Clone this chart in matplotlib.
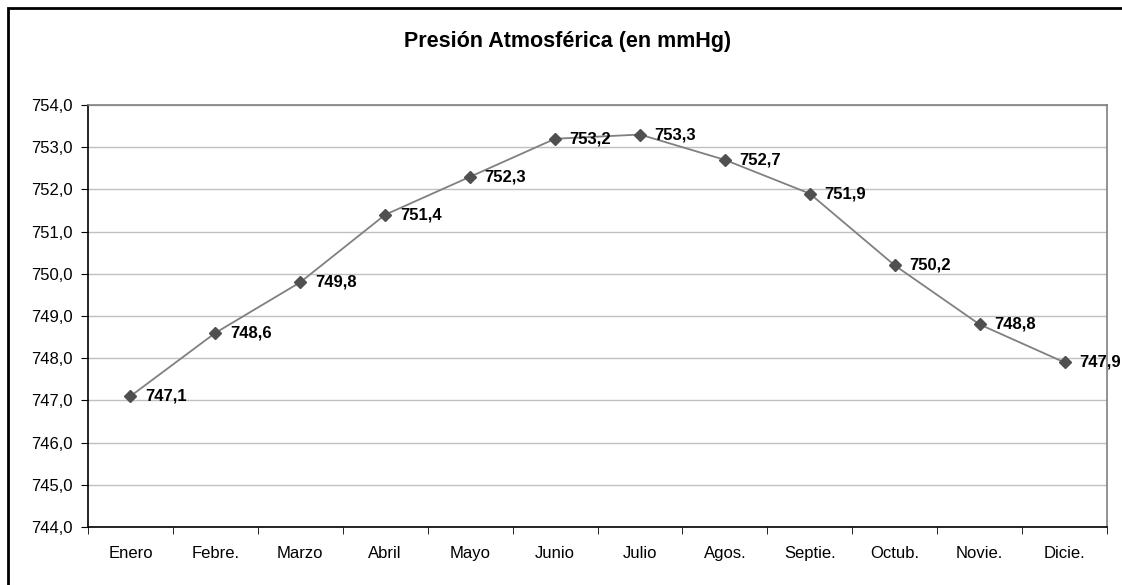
import matplotlib.pyplot as plt
from matplotlib.patches import Rectangle

plt.rcParams['font.family'] = ['Liberation Sans', 'DejaVu Sans']

meses = ['Enero', 'Febre.', 'Marzo', 'Abril', 'Mayo', 'Junio', 'Julio',
         'Agos.', 'Septie.', 'Octub.', 'Novie.', 'Dicie.']
presion = [747.1, 748.6, 749.8, 751.4, 752.3, 753.2, 753.3,
           752.7, 751.9, 750.2, 748.8, 747.9]
y_ticks = [744, 745, 746, 747, 748, 749, 750, 751, 752, 753, 754]

fig = plt.figure(figsize=(11.22, 5.85), dpi=100)
ax = fig.add_axes([88 / 1122, 1 - 527 / 585, 1019 / 1122, 422 / 585])

# outer chart border (cut off at right and bottom like the reference)
fig.patches.append(Rectangle((8 / 1122, -0.1), 1.2, 1 - 8 / 585 + 0.1,
                             transform=fig.transFigure, fill=False,
                             edgecolor='black', linewidth=2))

x = list(range(len(meses)))
ax.plot(x, presion, color='#808080', linewidth=1.3, marker='D',
        markersize=6, markerfacecolor='#505050', markeredgecolor='#505050',
        zorder=3, clip_on=False)

for xi, v in zip(x, presion):
    ax.annotate(f'{v:.1f}'.replace('.', ','), (xi, v), xytext=(10.5, 0),
                textcoords='offset points', ha='left', va='center',
                fontsize=12, fontweight='bold', annotation_clip=False)

ax.set_xlim(-0.5, len(meses) - 0.5)
ax.set_ylim(744, 754)
ax.set_yticks(y_ticks)
ax.set_yticklabels([f'{t:.1f}'.replace('.', ',') for t in y_ticks], fontsize=12)
ax.set_xticks(x)
ax.set_xticklabels(meses, fontsize=12)
ax.tick_params(axis='x', length=0, pad=14)
ax.set_xticks([i - 0.5 for i in range(len(meses) + 1)], minor=True)
ax.tick_params(axis='x', which='minor', length=5, direction='out', color='black')
ax.tick_params(axis='y', length=5, direction='out', color='black', pad=6)

ax.grid(axis='y', color='#c0c0c0', linewidth=1)
ax.set_axisbelow(True)
ax.spines['left'].set_color('black')
ax.spines['bottom'].set_color('black')
ax.spines['top'].set_color('#808080')
ax.spines['right'].set_color('#808080')
for s in ax.spines.values():
    s.set_linewidth(1.2)

fig.text(568 / 1122, 1 - 42 / 585, 'Presión Atmosférica (en mmHg)',
         ha='center', va='center', fontsize=15.5, fontweight='bold')

fig.savefig('out.png', dpi=100)
